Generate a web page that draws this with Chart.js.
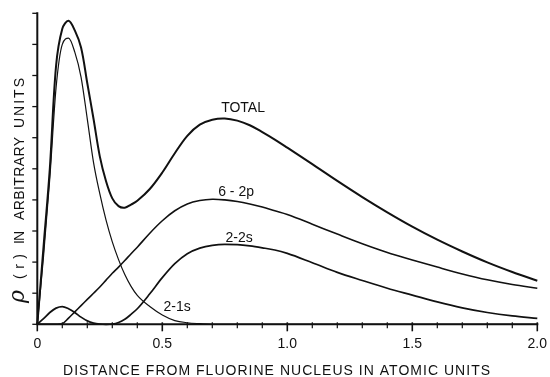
<!DOCTYPE html>
<html>
<head>
<meta charset="utf-8">
<script src="https://cdn.jsdelivr.net/npm/chart.js@4.4.1/dist/chart.umd.min.js"></script>
<style>
  html, body { margin: 0; padding: 0; background: #fff; }
  #wrap { width: 550px; height: 377px; position: relative; }
</style>
</head>
<body>
<div id="wrap"><canvas id="c"></canvas></div>
<script>
// Radial distance r (atomic units)
const r = [0, 0.025, 0.05, 0.075, 0.1, 0.125, 0.15, 0.175, 0.2, 0.225, 0.25, 0.275, 0.3, 0.325, 0.35, 0.375,
           0.4, 0.45, 0.5, 0.55, 0.6, 0.65, 0.7, 0.75, 0.8, 0.85, 0.9, 0.95, 1.0,
           1.1, 1.2, 1.3, 1.4, 1.5, 1.6, 1.7, 1.8, 1.9, 2.0];

// Electron density contributions (arbitrary units)
const total = [0, 2.5, 5.0, 8.3, 9.5, 9.76, 9.45, 8.9, 7.75, 6.6, 5.4, 4.6, 4.05, 3.8, 3.75, 3.85,
               3.97, 4.35, 4.88, 5.5, 6.06, 6.42, 6.58, 6.62, 6.55, 6.4, 6.18, 5.94, 5.68,
               5.15, 4.61, 4.09, 3.6, 3.14, 2.72, 2.34, 1.99, 1.68, 1.40];
const rho2p = [0, 0, 0, 0, 0.02, 0.2, 0.4, 0.6, 0.8, 1.0, 1.2, 1.42, 1.64, 1.84, 2.05, 2.27,
               2.48, 2.93, 3.33, 3.65, 3.87, 3.98, 4.02, 4.0, 3.95, 3.87, 3.77, 3.65, 3.53,
               3.22, 2.9, 2.59, 2.31, 2.07, 1.84, 1.62, 1.43, 1.28, 1.16];
const rho2s = [0, 0.18, 0.38, 0.52, 0.57, 0.5, 0.38, 0.23, 0.11, 0.04, 0.01, 0, 0.01, 0.06, 0.16, 0.32,
               0.5, 0.98, 1.5, 1.95, 2.27, 2.45, 2.54, 2.57, 2.56, 2.52, 2.46, 2.39, 2.28,
               1.98, 1.67, 1.41, 1.16, 0.94, 0.72, 0.53, 0.38, 0.27, 0.19];
const rho1s = [0, 2.2, 4.7, 7.6, 9.0, 9.2, 8.75, 7.95, 6.6, 5.2, 4.2, 3.35, 2.65, 2.08, 1.6, 1.22,
               0.93, 0.57, 0.3, 0.12, 0.05, 0.02, 0, 0, 0, 0, 0, 0, 0,
               0, 0, 0, 0, 0, 0, 0, 0, 0, 0];

// Axis tick labels
const xTickValues = [0, 0.5, 1.0, 1.5, 2.0];
const xTickLabels = ['0', '0.5', '1.0', '1.5', '2.0'];

// Curve names and where they sit, in data units
const curveNames = ['TOTAL', '6 - 2p', '2-2s', '2-1s'];
const nameAnchors = [[0.823, 6.94], [0.795, 4.25], [0.807, 2.77], [0.559, 0.56]];

const ink = '#111';
const series = (ys) => r.map((x, i) => ({ x, y: ys[i] }));

const FONT = '"Liberation Sans", Arial, sans-serif';

// Draw text stretched with letter spacing so it spans the given width
function drawSpaced(ctx, text, x, y, width) {
  ctx.letterSpacing = '0px';
  const w = ctx.measureText(text).width;
  const n = Math.max(1, text.length - 1);
  const sp = (width - w) / n;
  ctx.letterSpacing = sp.toFixed(2) + 'px';
  ctx.fillText(text, x, y);
  ctx.letterSpacing = '0px';
}

const decor = {
  id: 'decor',
  afterDraw(chart) {
    const ctx = chart.ctx;
    const xs = chart.scales.x, ys = chart.scales.y;
    const x0 = xs.getPixelForValue(0), x2 = xs.getPixelForValue(2);
    const y0 = ys.getPixelForValue(0), y10 = ys.getPixelForValue(10);
    ctx.save();
    ctx.strokeStyle = ink;
    ctx.fillStyle = ink;
    // axis lines
    ctx.lineWidth = 2;
    ctx.beginPath();
    ctx.moveTo(x0, y10 - 1);
    ctx.lineTo(x0, y0);
    ctx.lineTo(x2 + 1, y0);
    ctx.stroke();
    // y ticks, every unit
    ctx.lineWidth = 1.3;
    for (let v = 0; v <= 10; v++) {
      const py = ys.getPixelForValue(v);
      ctx.beginPath();
      ctx.moveTo(x0 - 5, py);
      ctx.lineTo(x0, py);
      ctx.stroke();
    }
    // x ticks, every 0.1, longer at each half unit
    for (let k = 0; k <= 20; k++) {
      const px = xs.getPixelForValue(k / 10);
      const major = k % 5 === 0;
      ctx.lineWidth = major ? 1.6 : 1.2;
      ctx.beginPath();
      ctx.moveTo(px, y0 - 2);
      ctx.lineTo(px, y0 + (major ? 7 : 4));
      ctx.stroke();
    }
    // x tick labels
    ctx.font = '14px ' + FONT;
    ctx.textAlign = 'center';
    ctx.textBaseline = 'alphabetic';
    xTickValues.forEach((v, i) => {
      ctx.fillText(xTickLabels[i], xs.getPixelForValue(v), y0 + 23.5);
    });
    // x title
    ctx.textAlign = 'left';
    ctx.font = '14px ' + FONT;
    drawSpaced(ctx, 'DISTANCE FROM FLUORINE NUCLEUS IN ATOMIC UNITS', 63, 374.5, 427);
    // y title, rotated, reading upward
    ctx.save();
    ctx.translate(24, 0);
    ctx.rotate(-Math.PI / 2);
    ctx.font = 'italic 22px "DejaVu Serif", serif';
    ctx.fillText('\u03C1', -303, 0);
    ctx.font = '14px ' + FONT;
    drawSpaced(ctx, '(r)', -279, 0, 25);
    drawSpaced(ctx, 'IN', -244, 0, 13);
    drawSpaced(ctx, 'ARBITRARY', -220, 0, 83);
    drawSpaced(ctx, 'UNITS', -128, 0, 50);
    ctx.restore();
    // curve names
    ctx.font = '14px ' + FONT;
    ctx.textAlign = 'center';
    ctx.textBaseline = 'middle';
    curveNames.forEach((name, i) => {
      const [vx, vy] = nameAnchors[i];
      ctx.fillText(name, xs.getPixelForValue(vx), ys.getPixelForValue(vy));
    });
    ctx.restore();
  }
};

const smooth = { cubicInterpolationMode: 'default', tension: 0.35 };
const tight = { cubicInterpolationMode: 'monotone' };

new Chart(document.getElementById('c'), {
  type: 'line',
  data: {
    datasets: [
      Object.assign({ label: 'TOTAL', data: series(total), borderWidth: 2.0 }, smooth),
      Object.assign({ label: '6-2p', data: series(rho2p), borderWidth: 1.6 }, smooth),
      Object.assign({ label: '2-2s', data: series(rho2s), borderWidth: 1.7 }, tight),
      Object.assign({ label: '2-1s', data: series(rho1s), borderWidth: 1.2 }, tight)
    ].map(d => Object.assign(d, {
      borderColor: ink, backgroundColor: ink, fill: false,
      pointRadius: 0, clip: false
    }))
  },
  options: {
    responsive: true,
    maintainAspectRatio: false,
    animation: false,
    devicePixelRatio: 1,
    layout: { padding: { left: 37.3, right: 12.7, top: 13.3, bottom: 52.7 } },
    plugins: { legend: { display: false }, tooltip: { enabled: false } },
    scales: {
      x: { type: 'linear', min: 0, max: 2, display: false },
      y: { type: 'linear', min: 0, max: 10, display: false }
    }
  },
  plugins: [decor]
});
</script>
</body>
</html>
